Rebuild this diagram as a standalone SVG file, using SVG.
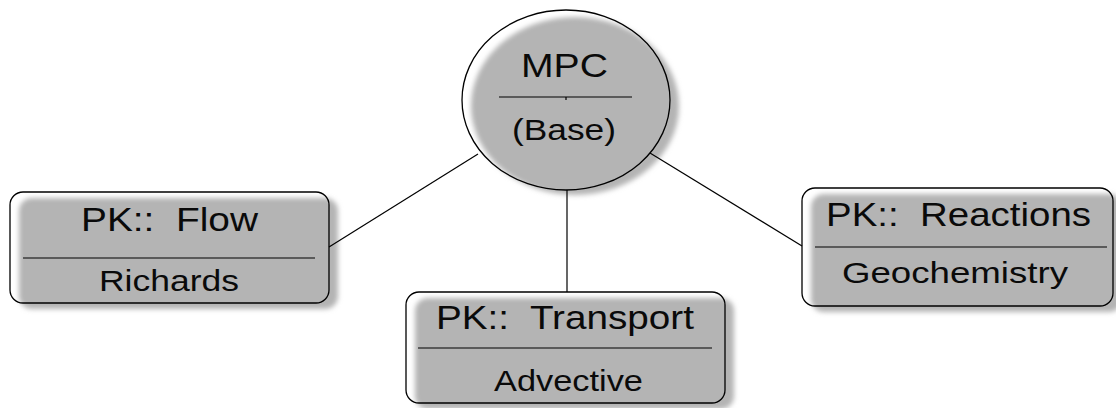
<svg xmlns="http://www.w3.org/2000/svg" width="1116" height="408" viewBox="0 0 1116 408">
  <defs>
    <filter id="soft" x="-10%" y="-10%" width="120%" height="120%">
      <feGaussianBlur stdDeviation="2.5"/>
    </filter>
  </defs>
  <style>
    .fill { fill: #b4b4b4; filter: url(#soft); }
    .outline { fill: none; stroke: #000; stroke-width: 1.3; }
    .rule { stroke: #000; stroke-width: 1.2; }
    .label { font-family: "Liberation Sans", Arial, sans-serif; fill: #0a0a0a; white-space: pre; }
    .title { font-size: 33px; }
    .sub { font-size: 30px; }
    .edge { stroke: #000; stroke-width: 1.2; fill: none; }
  </style>
  <rect width="1116" height="408" fill="#fff"/>

  <g id="mpc">
    <ellipse class="fill" cx="575" cy="106" rx="104" ry="89"/>
    <ellipse class="outline" cx="566" cy="100" rx="104" ry="90"/>
    <line class="rule" x1="499" y1="97" x2="632" y2="97"/>
    <line class="rule" x1="566" y1="97" x2="566" y2="100" stroke-width="0.8"/>
    <text class="label title" x="521" y="77" textLength="87" lengthAdjust="spacingAndGlyphs">MPC</text>
    <text class="label sub" x="512" y="140" textLength="104" lengthAdjust="spacingAndGlyphs">(Base)</text>
  </g>

  <g id="flow">
    <rect class="fill" x="19" y="198" width="319" height="111" rx="13"/>
    <rect class="outline" x="10" y="192" width="319" height="111" rx="13"/>
    <line class="rule" x1="23" y1="258" x2="315" y2="258"/>
    <text class="label title" x="81" y="231" textLength="177" lengthAdjust="spacingAndGlyphs">PK::  Flow</text>
    <text class="label sub" x="99" y="291" textLength="140" lengthAdjust="spacingAndGlyphs">Richards</text>
  </g>

  <g id="transport">
    <rect class="fill" x="415" y="298" width="319" height="111" rx="13"/>
    <rect class="outline" x="406" y="292" width="319" height="111" rx="13"/>
    <line class="rule" x1="418" y1="348" x2="712" y2="348"/>
    <text class="label title" x="436" y="329" textLength="258" lengthAdjust="spacingAndGlyphs">PK::  Transport</text>
    <text class="label sub" x="494" y="391" textLength="149" lengthAdjust="spacingAndGlyphs">Advective</text>
  </g>

  <g id="reactions">
    <rect class="fill" x="811" y="194" width="311" height="118" rx="13"/>
    <rect class="outline" x="802" y="188" width="311" height="118" rx="13"/>
    <line class="rule" x1="815" y1="247" x2="1107" y2="247"/>
    <text class="label title" x="826" y="226" textLength="265" lengthAdjust="spacingAndGlyphs">PK::  Reactions</text>
    <text class="label sub" x="842" y="283" textLength="226" lengthAdjust="spacingAndGlyphs">Geochemistry</text>
  </g>

  <!-- links from the base class to each process kernel -->
  <g id="connectors">
    <line class="edge" x1="329" y1="247" x2="478" y2="154"/>
    <line class="edge" x1="567" y1="190" x2="567" y2="292"/>
    <line class="edge" x1="650" y1="153" x2="802" y2="246"/>
  </g>
</svg>
